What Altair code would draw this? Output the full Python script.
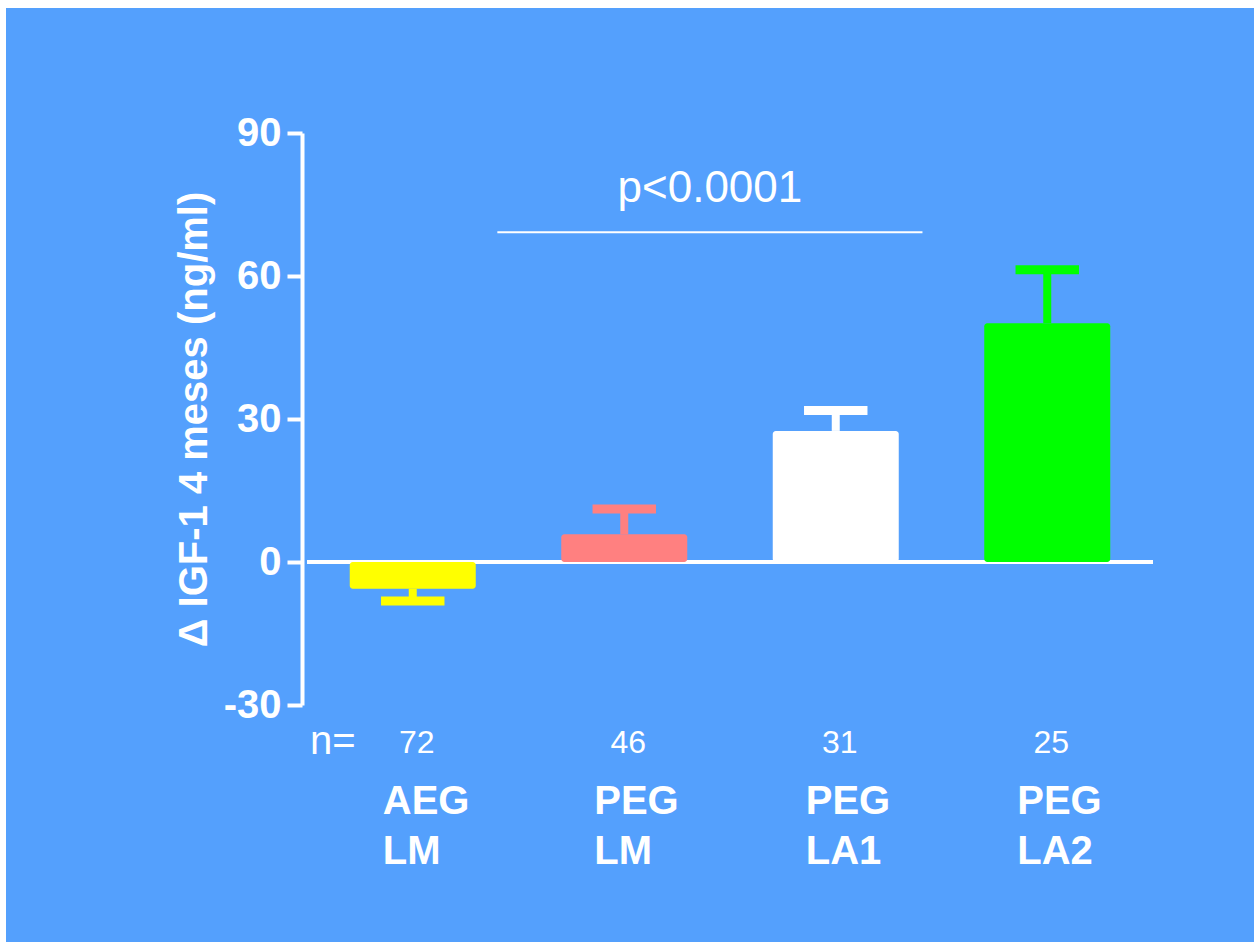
import altair as alt
import pandas as pd

# Groups, sample sizes and change in IGF-1 after 4 months (mean and SEM, ng/ml)
label_top = ["AEG", "PEG", "PEG", "PEG"]
label_bottom = ["LM", "LM", "LA1", "LA2"]
n_counts = ["72", "46", "31", "25"]
means = [-5.6, 5.8, 27.5, 50.1]
sems = [2.6, 5.3, 4.3, 11.2]
bar_colors = ["#FFFF00", "#FF8080", "#FFFFFF", "#00FF00"]

y_ticks = [-30, 0, 30, 60, 90]
p_text = "p<0.0001"

# layout (data units)
P_FROM, P_TO, P_LINE_Y, P_TEXT_Y = 1.40, 3.41, 69.2, 75.5
CAP_HALF = 0.15

BLUE = "#54A0FD"
WHITE = "#FFFFFF"
FONT = "Liberation Sans"

df = pd.DataFrame({
    "pos": [i + 1 for i in range(len(means))],
    "mean": means,
    "sem": sems,
    "color": bar_colors,
    "top": label_top,
    "bottom": label_bottom,
    "n": n_counts,
})
df["end"] = [m + (s if m >= 0 else -s) for m, s in zip(means, sems)]
df["cap_l"] = df["pos"] - CAP_HALF
df["cap_r"] = df["pos"] + CAP_HALF
df["zero"] = 0.0

xs = alt.Scale(domain=[0.5, 4.5], nice=False, zero=False)
ys = alt.Scale(domain=[-30, 90], nice=False, zero=False)

y_axis = alt.Axis(
    values=y_ticks,
    labelExpr="'' + datum.value",
    title="Δ IGF-1 4 meses (ng/ml)",
    grid=False,
    zindex=1,
    domainColor=WHITE,
    domainWidth=4,
    tickColor=WHITE,
    tickWidth=4,
    tickSize=15,
    labelColor=WHITE,
    labelFont=FONT,
    labelFontSize=40,
    labelFontWeight="bold",
    labelPadding=6,
    labelOverlap=False,
    titleColor=WHITE,
    titleFont=FONT,
    titleFontSize=40,
    titleFontWeight="bold",
    titlePadding=9,
)

base = alt.Chart(df)
one = alt.Chart(pd.DataFrame({"x0": [0.5], "x1": [4.5], "y0": [0.0],
                              "px0": [P_FROM], "px1": [P_TO],
                              "pxm": [(P_FROM + P_TO) / 2],
                              "py": [P_LINE_Y], "pty": [P_TEXT_Y],
                              "nx": [0.514], "ny": [-40.3]}))

panel = one.mark_rect(color=BLUE).encode(
    x=alt.value(-296), x2=alt.value(952), y=alt.value(-125), y2=alt.value(809)
)

zero_line = one.mark_rule(color=WHITE, strokeWidth=4).encode(
    x=alt.X("x0:Q", scale=xs, axis=None), x2="x1:Q",
    y=alt.Y("y0:Q", scale=ys, axis=y_axis)
)

bars = base.mark_bar(size=126, cornerRadius=3).encode(
    x=alt.X("pos:Q", scale=xs, axis=None),
    y=alt.Y("mean:Q", scale=ys, axis=y_axis),
    y2="zero:Q",
    color=alt.Color("color:N", scale=None),
)

stems = base.mark_rule(strokeWidth=8).encode(
    x="pos:Q", y="mean:Q", y2="end:Q", color=alt.Color("color:N", scale=None)
)

caps = base.mark_rule(strokeWidth=9).encode(
    x="cap_l:Q", x2="cap_r:Q", y="end:Q", color=alt.Color("color:N", scale=None)
)

p_line = one.mark_rule(color=WHITE, strokeWidth=2).encode(
    x="px0:Q", x2="px1:Q", y="py:Q"
)

p_label = one.mark_text(
    color=WHITE, font=FONT, fontSize=44, align="center", baseline="alphabetic"
).encode(x="pxm:Q", y="pty:Q", text=alt.value(p_text))

n_prefix = one.mark_text(
    color=WHITE, font=FONT, fontSize=40, align="left", baseline="alphabetic"
).encode(x="nx:Q", y="ny:Q", text=alt.value("n="))

n_values = base.mark_text(
    color=WHITE, font=FONT, fontSize=32, align="center", baseline="alphabetic", dx=4
).encode(x="pos:Q", y=alt.datum(-40), text="n:N")

name_top = base.mark_text(
    color=WHITE, font=FONT, fontSize=40, fontWeight="bold",
    align="left", baseline="alphabetic", dx=-30
).encode(x="pos:Q", y=alt.datum(-52.9), text="top:N")

name_bottom = base.mark_text(
    color=WHITE, font=FONT, fontSize=40, fontWeight="bold",
    align="left", baseline="alphabetic", dx=-30
).encode(x="pos:Q", y=alt.datum(-63.4), text="bottom:N")

chart = (
    alt.layer(
        panel, zero_line, bars, stems, caps, p_line, p_label,
        n_prefix, n_values, name_top, name_bottom
    )
    .properties(
        width=856,
        height=572,
        autosize=alt.AutoSizeParams(type="none"),
        padding={"left": 302, "top": 133, "right": 96, "bottom": 237},
        background=WHITE,
    )
    .configure_view(stroke=None)
)

chart.save("out.html", embed_options={"renderer": "svg", "actions": False})
